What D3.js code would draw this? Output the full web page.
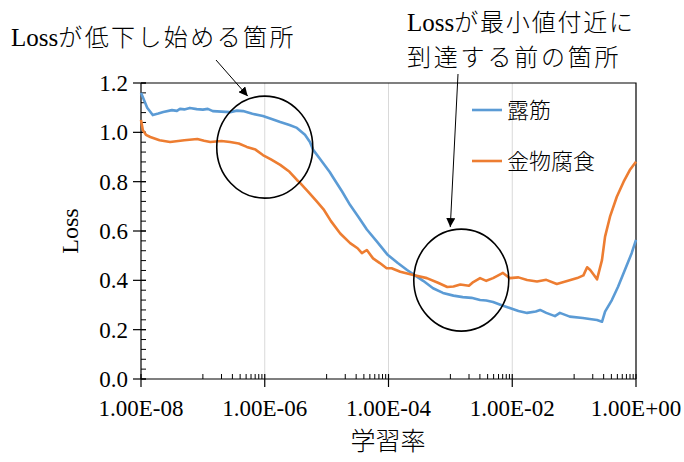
<!DOCTYPE html>
<html>
<head>
<meta charset="utf-8">
<script src="https://cdn.jsdelivr.net/npm/d3@7"></script>
<style>
  html, body { margin: 0; padding: 0; background: #fff; }
  svg { display: block; }
  text { font-family: "Liberation Serif", "Noto Sans CJK JP", serif; fill: #000; }
  .jp { font-weight: 300; }
</style>
</head>
<body>
<svg id="chart" width="684" height="462"></svg>
<script>
// Learning-rate sweep: loss against learning rate (log10 of the rate on x)
const seriesNames = ["露筋", "金物腐食"];
const seriesColors = ["#5B9BD5", "#ED7D31"];

// 露筋
const rebarExp = [-8.0, -7.95, -7.9, -7.81, -7.72, -7.64, -7.5, -7.42, -7.37, -7.3, -7.21, -7.1, -7.0, -6.92, -6.84,
  -6.7, -6.56, -6.45, -6.35, -6.2, -6.03, -5.9, -5.75, -5.6, -5.48, -5.35, -5.27, -5.22, -5.1, -4.95, -4.9, -4.75,
  -4.62, -4.48, -4.35, -4.18, -4.02, -3.85, -3.7, -3.56, -3.44, -3.28, -3.12, -2.95, -2.8, -2.66, -2.52, -2.42, -2.31,
  -2.16, -2.04, -1.9, -1.76, -1.62, -1.55, -1.45, -1.31, -1.23, -1.07, -0.86, -0.72, -0.63, -0.55, -0.5, -0.39,
  -0.29, -0.18, -0.07, 0.0];
const rebarLoss = [1.16, 1.13, 1.10, 1.07, 1.076, 1.082, 1.09, 1.087, 1.095, 1.093, 1.099, 1.094, 1.092, 1.095, 1.086,
  1.084, 1.082, 1.088, 1.086, 1.075, 1.066, 1.055, 1.042, 1.03, 1.018, 0.99, 0.961, 0.93, 0.89, 0.839, 0.819, 0.76,
  0.705, 0.655, 0.606, 0.555, 0.505, 0.47, 0.442, 0.418, 0.398, 0.368, 0.349, 0.338, 0.332, 0.329, 0.320, 0.318, 0.312,
  0.298, 0.288, 0.276, 0.268, 0.274, 0.28, 0.268, 0.255, 0.268, 0.253, 0.247, 0.242, 0.239, 0.232, 0.273, 0.32,
  0.374, 0.442, 0.51, 0.564];

// 金物腐食
const corrosionExp = [-8.0, -7.97, -7.92, -7.85, -7.7, -7.53, -7.3, -7.09, -6.98, -6.88, -6.7, -6.56, -6.42, -6.29,
  -6.15, -6.03, -5.9, -5.75, -5.6, -5.48, -5.43, -5.3, -5.16, -5.05, -4.93, -4.78, -4.62, -4.5, -4.43, -4.35, -4.25,
  -4.14, -4.03, -3.95, -3.81, -3.6, -3.38, -3.2, -3.05, -2.95, -2.84, -2.7, -2.63, -2.52, -2.42, -2.31, -2.15, -2.04,
  -1.9, -1.76, -1.6, -1.45, -1.28, -1.1, -0.95, -0.85, -0.79, -0.74, -0.68, -0.63, -0.55, -0.5, -0.42, -0.31, -0.2,
  -0.1, 0.0];
const corrosionLoss = [1.05, 1.009, 0.99, 0.981, 0.968, 0.961, 0.968, 0.973, 0.966, 0.961, 0.965, 0.961, 0.955, 0.941,
  0.93, 0.908, 0.89, 0.868, 0.84, 0.807, 0.795, 0.76, 0.72, 0.688, 0.64, 0.59, 0.551, 0.53, 0.51, 0.523, 0.489,
  0.47, 0.449, 0.449, 0.435, 0.422, 0.409, 0.39, 0.373, 0.375, 0.383, 0.378, 0.393, 0.409, 0.398, 0.409, 0.43, 0.409,
  0.412, 0.401, 0.395, 0.402, 0.385, 0.398, 0.409, 0.42, 0.453, 0.442, 0.422, 0.404, 0.482, 0.577, 0.658, 0.739,
  0.80, 0.847, 0.881];

const xTickValues = [1e-8, 1e-6, 1e-4, 1e-2, 1];
const xTickLabels = ["1.00E-08", "1.00E-06", "1.00E-04", "1.00E-02", "1.00E+00"];
const yTickValues = [0, 0.2, 0.4, 0.6, 0.8, 1.0, 1.2];
const yTickLabels = ["0.0", "0.2", "0.4", "0.6", "0.8", "1.0", "1.2"];

// Callouts: text lines (Latin lead + Japanese rest), ellipse centre in data space and its radii
const callouts = [
  { lines: [["Loss", "が低下し始める箇所"]], at: [1e-6, 0.94], rx: 48, ry: 51 },
  { lines: [["Loss", "が最小値付近に"], ["", "到達する前の箇所"]], at: [1.5e-3, 0.401], rx: 47.5, ry: 51 }
];

const svg = d3.select("#chart");
const plotLeft = 141, plotRight = 636, plotTop = 83, plotBottom = 379;

const x = d3.scaleLog().domain([1e-8, 1]).range([plotLeft, plotRight]);
const y = d3.scaleLinear().domain([0, 1.2]).range([plotBottom, plotTop]);

// vertical grid lines at the labelled decades
svg.append("g").selectAll("line")
  .data(xTickValues.slice(1, -1))
  .join("line")
  .attr("x1", d => x(d)).attr("x2", d => x(d))
  .attr("y1", plotTop).attr("y2", plotBottom)
  .attr("stroke", "#d9d9d9").attr("stroke-width", 1);

// frame: top and right edges
svg.append("path")
  .attr("d", `M${plotLeft},${plotTop}H${plotRight}V${plotBottom}`)
  .attr("fill", "none").attr("stroke", "#000").attr("stroke-width", 1.2);

// x axis
const xMinor = [];
for (let k = -7; k <= -1; k += 2) for (let m = 1; m <= 9; m++) xMinor.push(m * Math.pow(10, k));
const gx = svg.append("g");
gx.append("line").attr("x1", plotLeft).attr("x2", plotRight).attr("y1", plotBottom).attr("y2", plotBottom)
  .attr("stroke", "#000").attr("stroke-width", 1.2);
gx.selectAll("line.minor").data(xMinor).join("line").attr("class", "minor")
  .attr("x1", d => x(d)).attr("x2", d => x(d)).attr("y1", plotBottom).attr("y2", plotBottom - 5)
  .attr("stroke", "#000").attr("stroke-width", 1);
gx.selectAll("line.major").data(xTickValues).join("line").attr("class", "major")
  .attr("x1", d => x(d)).attr("x2", d => x(d)).attr("y1", plotBottom - 5).attr("y2", plotBottom + 8)
  .attr("stroke", "#000").attr("stroke-width", 1.2);
gx.selectAll("text").data(xTickValues).join("text")
  .attr("x", d => x(d)).attr("y", plotBottom + 37)
  .attr("text-anchor", "middle").attr("font-size", 23)
  .text((d, i) => xTickLabels[i]);

// y axis
const yMinor = d3.range(0, 1.2001, 0.04);
const gy = svg.append("g");
gy.append("line").attr("x1", plotLeft).attr("x2", plotLeft).attr("y1", plotTop).attr("y2", plotBottom)
  .attr("stroke", "#000").attr("stroke-width", 1.2);
gy.selectAll("line.minor").data(yMinor).join("line").attr("class", "minor")
  .attr("x1", plotLeft).attr("x2", plotLeft + 5).attr("y1", d => y(d)).attr("y2", d => y(d))
  .attr("stroke", "#000").attr("stroke-width", 1);
gy.selectAll("line.major").data(yTickValues).join("line").attr("class", "major")
  .attr("x1", plotLeft - 8).attr("x2", plotLeft + 5).attr("y1", d => y(d)).attr("y2", d => y(d))
  .attr("stroke", "#000").attr("stroke-width", 1.2);
gy.selectAll("text").data(yTickValues).join("text")
  .attr("x", plotLeft - 13).attr("y", d => y(d)).attr("dy", "0.35em")
  .attr("text-anchor", "end").attr("font-size", 23)
  .text((d, i) => yTickLabels[i]);

// axis titles
svg.append("text").attr("class", "jp").attr("x", 388).attr("y", 450).attr("text-anchor", "middle")
  .attr("font-size", 25).text("学習率");
svg.append("text").attr("transform", "translate(78,231) rotate(-90)").attr("text-anchor", "middle")
  .attr("font-size", 24).text("Loss");

// series
const line = d3.line().x(d => x(d[0])).y(d => y(d[1]));
const series = [
  rebarExp.map((e, i) => [Math.pow(10, e), rebarLoss[i]]),
  corrosionExp.map((e, i) => [Math.pow(10, e), corrosionLoss[i]])
];
svg.append("g").selectAll("path").data(series).join("path")
  .attr("d", line)
  .attr("fill", "none")
  .attr("stroke", (d, i) => seriesColors[i])
  .attr("stroke-width", 2.6)
  .attr("stroke-linejoin", "round");

// legend
const legend = svg.append("g").attr("transform", "translate(472,110)");
const items = legend.selectAll("g").data(seriesNames).join("g")
  .attr("transform", (d, i) => `translate(0,${i * 51})`);
items.append("line").attr("x1", 0).attr("x2", 30).attr("y1", 0).attr("y2", 0)
  .attr("stroke", (d, i) => seriesColors[i]).attr("stroke-width", 2.6);
items.append("text").attr("class", "jp").attr("x", 35).attr("y", 0).attr("dy", "0.36em")
  .attr("font-size", 22).text(d => d);

// callouts
const defs = svg.append("defs");
defs.append("marker").attr("id", "arrowhead")
  .attr("viewBox", "0 0 10 10").attr("refX", 10).attr("refY", 5)
  .attr("markerWidth", 9).attr("markerHeight", 9).attr("markerUnits", "userSpaceOnUse")
  .attr("orient", "auto")
  .append("path").attr("d", "M0,0L10,5L0,10Z").attr("fill", "#000");

callouts.forEach(c => {
  svg.append("ellipse")
    .attr("cx", x(c.at[0])).attr("cy", y(c.at[1]))
    .attr("rx", c.rx).attr("ry", c.ry)
    .attr("fill", "none").attr("stroke", "#000").attr("stroke-width", 1.6);
});

function calloutText(parts, tx, ty, spacing) {
  const t = svg.append("text").attr("x", tx).attr("y", ty).attr("font-size", 24);
  if (parts[0]) t.append("tspan").attr("font-size", 25).text(parts[0]);
  t.append("tspan").attr("class", "jp").attr("letter-spacing", spacing).text(parts[1]);
}

// callout 1
calloutText(callouts[0].lines[0], 11, 46, 2.4);
svg.append("line")
  .attr("x1", 216).attr("y1", 60)
  .attr("x2", x(callouts[0].at[0]) - 17).attr("y2", y(callouts[0].at[1]) - callouts[0].ry)
  .attr("stroke", "#000").attr("stroke-width", 1).attr("marker-end", "url(#arrowhead)");

// callout 2
calloutText(callouts[1].lines[0], 407, 31, 1.8);
calloutText(callouts[1].lines[1], 407, 66, 2.8);
svg.append("line")
  .attr("x1", 458).attr("y1", 74)
  .attr("x2", x(callouts[1].at[0]) - 11).attr("y2", y(callouts[1].at[1]) - callouts[1].ry - 2)
  .attr("stroke", "#000").attr("stroke-width", 1).attr("marker-end", "url(#arrowhead)");
</script>
</body>
</html>
